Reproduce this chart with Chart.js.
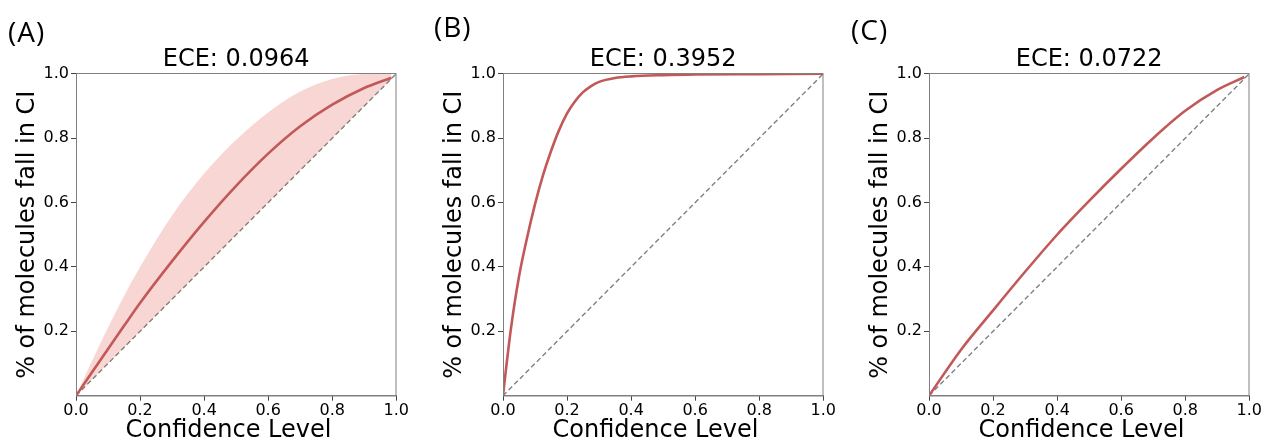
<!DOCTYPE html>
<html><head><meta charset="utf-8">
<script src="https://cdn.jsdelivr.net/npm/chart.js@4.4.1/dist/chart.umd.min.js"></script>
<style>
body{margin:0;width:1264px;height:440px;background:#fff;position:relative;overflow:hidden;font-family:"DejaVu Sans",sans-serif}
.panel{position:absolute;top:0;width:410px;height:440px}
.lbl{position:absolute;font-family:"Open Sans",sans-serif;font-size:28px;letter-spacing:1px;color:#000;line-height:1;white-space:nowrap}
</style></head><body>
<div class="panel" style="left:0"><canvas id="cA" width="410" height="440"></canvas></div>
<div class="panel" style="left:427px"><canvas id="cB" width="410" height="440"></canvas></div>
<div class="panel" style="left:853px"><canvas id="cC" width="410" height="440"></canvas></div>
<div class="lbl" style="left:8px;top:17px">(A)</div>
<div class="lbl" style="left:434px;top:12px">(B)</div>
<div class="lbl" style="left:851px;top:15px">(C)</div>
<script>
// ---- data ----
const panelTitles = ['ECE: 0.0964', 'ECE: 0.3952', 'ECE: 0.0722'];
const xTicks = [0, 0.2, 0.4, 0.6, 0.8, 1.0];
const yTicks = [0.2, 0.4, 0.6, 0.8, 1.0];
const diagX = [0, 1];
const diagY = [0, 1];

const aX     = [0, 0.05, 0.1, 0.15, 0.2, 0.3, 0.4, 0.5, 0.6, 0.7, 0.8, 0.9, 0.985];
const aMean  = [0, 0.073, 0.145, 0.217, 0.288, 0.418, 0.54, 0.652, 0.752, 0.837, 0.904, 0.956, 0.988];
const aUpper = [0, 0.108, 0.212, 0.31, 0.40, 0.56, 0.69, 0.795, 0.88, 0.945, 0.984, 0.999, 1.0];
const aLower = [0, 0.05, 0.1, 0.15, 0.2, 0.3, 0.4, 0.5, 0.6, 0.7, 0.8, 0.9, 0.985];

const bX = [0, 0.01, 0.025, 0.05, 0.075, 0.1, 0.125, 0.15, 0.175, 0.2, 0.225, 0.25, 0.275, 0.3, 0.35, 0.4, 0.5, 0.6, 0.8, 1.0];
const bY = [0, 0.088, 0.21, 0.37, 0.49, 0.595, 0.685, 0.76, 0.825, 0.877, 0.915, 0.943, 0.962, 0.975, 0.987, 0.992, 0.996, 0.998, 0.999, 1.0];

const cX = [0, 0.1, 0.2, 0.3, 0.4, 0.5, 0.6, 0.7, 0.8, 0.9, 0.985];
const cY = [0, 0.143, 0.265, 0.385, 0.5, 0.605, 0.705, 0.80, 0.885, 0.95, 0.99];

// ---- styles ----
const LINE = '#c25858';
const BAND = '#f8d6d4';
const DIAG = '#808080';
const SPINE = '#808080';
const FONT = 'DejaVu Sans';

const pts = (xs, ys) => xs.map((x, i) => ({x: x, y: ys[i]}));

const framePlugin = {
  id: 'frame',
  afterDraw(chart) {
    const a = chart.chartArea, ctx = chart.ctx;
    ctx.save();
    ctx.strokeStyle = SPINE;
    ctx.lineWidth = 1;
    ctx.strokeRect(Math.round(a.left) + 0.5, Math.round(a.top) - 0.5, Math.round(a.right - a.left) - 0.5, Math.round(a.bottom - a.top) + 0.5);
    ctx.restore();
  }
};

function makeOptions(title) {
  const tickFont = {family: FONT, size: 16};
  const grid = {display: true, drawOnChartArea: false, drawTicks: true, tickLength: 5, tickColor: '#444', tickWidth: 1};
  return {
    responsive: false, animation: false, devicePixelRatio: 1,
    layout: {padding: {left: 0, right: 13, top: 0, bottom: 0}},
    plugins: {
      legend: {display: false}, tooltip: {enabled: false},
      title: {display: true, fullSize: false, text: title, color: '#000',
        font: {family: FONT, size: 24, weight: 'normal', lineHeight: 1.2},
        padding: {top: 45, bottom: 0}}
    },
    elements: {point: {radius: 0}},
    scales: {
      x: {
        type: 'linear', min: 0, max: 1,
        afterBuildTicks: s => { s.ticks = xTicks.map(v => ({value: v})); },
        afterFit: s => { s.height = 44.3; },
        grid: grid,
        border: {display: true, color: SPINE, width: 1},
        ticks: {color: '#000', font: tickFont, padding: 1, maxRotation: 0, autoSkip: false, callback: v => Number(v).toFixed(1)},
        title: {display: true, text: 'Confidence Level  ', color: '#000',
          font: {family: FONT, size: 24, weight: 'normal', lineHeight: 0.75}, padding: 0}
      },
      y: {
        type: 'linear', min: 0, max: 1,
        afterBuildTicks: s => { s.ticks = yTicks.map(v => ({value: v})); },
        afterFit: s => { s.width = 76; },
        grid: grid,
        border: {display: true, color: SPINE, width: 1},
        ticks: {color: '#000', font: tickFont, padding: 2, autoSkip: false, callback: v => Number(v).toFixed(1)},
        title: {display: true, text: '% of molecules fall in CI', color: '#000',
          font: {family: FONT, size: 24, weight: 'normal', lineHeight: 0.75}, padding: {top: 19, bottom: 0}}
      }
    }
  };
}

const lineDs = (xs, ys) => ({data: pts(xs, ys), borderColor: LINE, borderWidth: 2.6, fill: false, cubicInterpolationMode: 'monotone', order: 0});
const diagDs = () => ({data: pts(diagX, diagY), borderColor: DIAG, borderWidth: 1.4, borderDash: [5, 3], fill: false, tension: 0, order: 1});

new Chart(document.getElementById('cA'), {
  type: 'line',
  data: {datasets: [
    lineDs(aX, aMean),
    diagDs(),
    {data: pts(aX, aUpper), borderColor: 'transparent', backgroundColor: BAND, fill: '+1', cubicInterpolationMode: 'monotone', order: 2},
    {data: pts(aX, aLower), borderColor: 'transparent', fill: false, cubicInterpolationMode: 'monotone', order: 3}
  ]},
  options: makeOptions(panelTitles[0]),
  plugins: [framePlugin]
});

new Chart(document.getElementById('cB'), {
  type: 'line',
  data: {datasets: [lineDs(bX, bY), diagDs()]},
  options: makeOptions(panelTitles[1]),
  plugins: [framePlugin]
});

new Chart(document.getElementById('cC'), {
  type: 'line',
  data: {datasets: [lineDs(cX, cY), diagDs()]},
  options: makeOptions(panelTitles[2]),
  plugins: [framePlugin]
});
</script>
</body></html>
